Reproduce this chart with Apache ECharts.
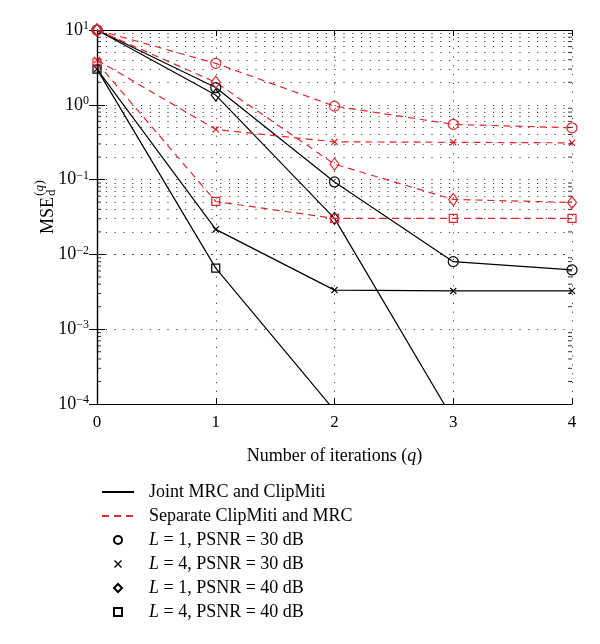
<!DOCTYPE html>
<html>
<head>
<meta charset="utf-8">
<script src="https://cdn.jsdelivr.net/npm/echarts@6/dist/echarts.min.js"></script>
<style>html,body{margin:0;padding:0;background:#fff}#c{width:600px;height:644px}</style>
</head>
<body>
<div id="c"></div>
<script>
// ---- data ----
const qValues = [0, 1, 2, 3, 4];
const yTickExponents = [-4, -3, -2, -1, 0, 1];
const jointL1P30 = [10, 1.70, 0.093, 0.0080, 0.0062];
const jointL4P30 = [3.0, 0.0216, 0.00333, 0.00325, 0.00325];
const jointL1P40 = [10, 1.35, 0.0303, 6.2e-5, null];
const jointL4P40 = [3.0, 0.00655, 8.2e-5, null, null];
const sepL1P30 = [10, 3.58, 0.96, 0.547, 0.493];
const sepL4P30 = [3.98, 0.469, 0.32, 0.315, 0.31];
const sepL1P40 = [10, 2.0, 0.161, 0.0543, 0.0495];
const sepL4P40 = [3.65, 0.051, 0.0303, 0.0303, 0.0303];
const legendLines = ['Joint MRC and ClipMiti', 'Separate ClipMiti and MRC'];
const legendMarkers = ['L = 1, PSNR = 30 dB', 'L = 4, PSNR = 30 dB', 'L = 1, PSNR = 40 dB', 'L = 4, PSNR = 40 dB'];

const FONT = 'Liberation Serif';
const RED = '#e3262d';
const BLACK = '#000';
const X_PATH = 'path://M0,1.2L1.2,0L5,3.8L8.8,0L10,1.2L6.2,5L10,8.8L8.8,10L5,6.2L1.2,10L0,8.8L3.8,5Z';

const markerDefs = [
  { symbol: 'circle', size: 10, hollow: true },
  { symbol: X_PATH, size: 7, hollow: false },
  { symbol: 'diamond', size: [9, 12], hollow: true },
  { symbol: 'rect', size: 8, hollow: true }
];

// minor log grid positions
const minorVals = [];
for (let e = yTickExponents[0]; e < yTickExponents[yTickExponents.length - 1]; e++) {
  for (let m = 2; m <= 9; m++) minorVals.push(m * Math.pow(10, e));
}

function pairs(arr) { return qValues.map((q, i) => [q, arr[i]]); }

function dataSeries(name, arr, color, dashed, mk) {
  return {
    name: name, type: 'line', data: pairs(arr), clip: true,
    symbol: mk.symbol, symbolSize: mk.size, showAllSymbol: true,
    lineStyle: { color: color, width: 1.2, type: dashed ? [7, 5] : 'solid' },
    itemStyle: mk.hollow ? { color: 'rgba(0,0,0,0)', borderColor: color, borderWidth: 1.2 }
                         : { color: color, borderWidth: 0 },
    emphasis: { disabled: true }, animation: false, z: 5
  };
}

const superMap = { '-': '\u2212' };
function sup(e) { return String(e).split('').map(c => superMap[c] || c).join(''); }

const series = [
  dataSeries('j1', jointL1P30, BLACK, false, markerDefs[0]),
  dataSeries('j2', jointL4P30, BLACK, false, markerDefs[1]),
  dataSeries('j3', jointL1P40, BLACK, false, markerDefs[2]),
  dataSeries('j4', jointL4P40, BLACK, false, markerDefs[3]),
  dataSeries('s1', sepL1P30, RED, true, markerDefs[0]),
  dataSeries('s2', sepL4P30, RED, true, markerDefs[1]),
  dataSeries('s3', sepL1P40, RED, true, markerDefs[2]),
  dataSeries('s4', sepL4P40, RED, true, markerDefs[3]),
  // minor horizontal dotted grid lines
  {
    name: 'minorGrid', type: 'line', data: [], silent: true, animation: false, z: 1,
    markLine: {
      silent: true, symbol: 'none', animation: false, label: { show: false },
      lineStyle: { color: '#444', width: 1, type: [1.2, 7.6] },
      data: minorVals.map(v => ({ yAxis: v }))
    }
  },
  // minor tick marks on left and right axes
  {
    name: 'minorTickL', type: 'scatter', silent: true, animation: false, z: 6,
    data: minorVals.map(v => [qValues[0], v]), symbol: 'rect', symbolSize: [4, 1], symbolOffset: [2, 0],
    itemStyle: { color: BLACK }
  },
  {
    name: 'minorTickR', type: 'scatter', silent: true, animation: false, z: 6,
    data: minorVals.map(v => [qValues[qValues.length - 1], v]), symbol: 'rect', symbolSize: [4, 1], symbolOffset: [-2, 0],
    itemStyle: { color: BLACK }
  },
  // legend-only series
  { name: legendLines[0], type: 'line', data: [], symbol: 'none', lineStyle: { color: BLACK, width: 1.2 }, itemStyle: { color: BLACK } },
  { name: legendLines[1], type: 'line', data: [], symbol: 'none', lineStyle: { color: RED, width: 1.2, type: [7, 5] }, itemStyle: { color: RED } }
];
legendMarkers.forEach((n, i) => {
  const mk = markerDefs[i];
  series.push({
    name: n, type: 'line', data: [], symbol: mk.symbol, symbolSize: mk.size, symbolKeepAspect: true,
    lineStyle: { opacity: 0, width: 0 },
    itemStyle: mk.hollow ? { color: 'rgba(0,0,0,0)', borderColor: BLACK, borderWidth: 1 } : { color: BLACK, borderWidth: 0 }
  });
});

const axisCommonX = {
  type: 'value', min: qValues[0], max: qValues[qValues.length - 1], interval: 1,
  axisLine: { show: true, lineStyle: { color: BLACK, width: 1.2 } },
  axisTick: { show: true, inside: true, length: 6, lineStyle: { color: BLACK } }
};
const axisCommonY = {
  type: 'log', logBase: 10, min: Math.pow(10, yTickExponents[0]), max: Math.pow(10, yTickExponents[yTickExponents.length - 1]),
  axisLine: { show: true, lineStyle: { color: BLACK, width: 1.2 } },
  axisTick: { show: true, inside: true, length: 8, lineStyle: { color: BLACK } }
};

const option = {
  backgroundColor: '#fff',
  animation: false,
  grid: { left: 97, right: 28, top: 30, bottom: 240, containLabel: false },
  xAxis: [
    Object.assign({}, axisCommonX, {
      position: 'bottom',
      axisLabel: { color: BLACK, fontFamily: FONT, fontSize: 17, margin: 10 },
      splitLine: { show: true, lineStyle: { color: '#444', width: 1, type: [1.2, 7.6] } },
      name: '{n|Number of iterations (}{i|q}{n|)}', nameLocation: 'middle', nameGap: 43,
      nameTextStyle: { rich: {
        n: { fontFamily: FONT, fontSize: 18, color: BLACK },
        i: { fontFamily: FONT, fontSize: 18, color: BLACK, fontStyle: 'italic' }
      } }
    }),
    Object.assign({}, axisCommonX, {
      position: 'top', axisLabel: { show: false }, splitLine: { show: false }
    })
  ],
  yAxis: [
    Object.assign({}, axisCommonY, {
      position: 'left',
      axisLabel: {
        margin: 8,
        formatter: v => '{b|10}{s|' + sup(Math.round(Math.log10(v))) + '}',
        rich: {
          b: { fontFamily: FONT, fontSize: 18, color: BLACK, lineHeight: 20 },
          s: { fontFamily: FONT, fontSize: 12, color: BLACK, lineHeight: 12, verticalAlign: 'top' }
        }
      },
      splitLine: { show: true, lineStyle: { color: '#444', width: 1, type: [1.2, 7.6] } }
    }),
    Object.assign({}, axisCommonY, {
      position: 'right', axisLabel: { show: false }, splitLine: { show: false }
    })
  ],
  legend: {
    orient: 'vertical', left: 101, top: 482, padding: 0,
    itemWidth: 32, itemHeight: 10, itemGap: 4,
    data: legendLines.map(n => ({ name: n, itemStyle: { opacity: 0 } }))
      .concat(legendMarkers.map(n => ({ name: n }))),
    selectedMode: false,
    formatter: name => {
      if (name.charAt(0) === 'L' && name.charAt(1) === ' ') return '{i|L}{n|' + name.slice(1) + '}';
      return '{p|' + name + '}';
    },
    textStyle: {
      fontFamily: FONT, fontSize: 18, color: BLACK, lineHeight: 20,
      rich: {
        p: { fontFamily: FONT, fontSize: 18, color: BLACK, padding: [0, 0, 0, 10] },
        i: { fontFamily: FONT, fontSize: 18, color: BLACK, fontStyle: 'italic', padding: [0, 0, 0, 10] },
        n: { fontFamily: FONT, fontSize: 18, color: BLACK }
      }
    }
  },
  graphic: [{
    type: 'group', x: 57, y: 234, rotation: Math.PI / 2,
    children: [
      { type: 'text', x: 0, y: 0, style: { text: 'MSE', font: '18px "Liberation Serif"', fill: BLACK, verticalAlign: 'bottom' } },
      { type: 'text', x: 38, y: 1, style: { text: 'd', font: '13px "Liberation Serif"', fill: BLACK, verticalAlign: 'bottom' } },
      { type: 'text', x: 38, y: -11, style: { text: '(', font: '13px "Liberation Serif"', fill: BLACK, verticalAlign: 'bottom' } },
      { type: 'text', x: 42.5, y: -11, style: { text: 'q', font: 'italic 13px "Liberation Serif"', fill: BLACK, verticalAlign: 'bottom' } },
      { type: 'text', x: 49.5, y: -11, style: { text: ')', font: '13px "Liberation Serif"', fill: BLACK, verticalAlign: 'bottom' } }
    ]
  }],
  series: series
};

const chart = echarts.init(document.getElementById('c'), null, { renderer: 'canvas' });
chart.setOption(option);
</script>
</body>
</html>
